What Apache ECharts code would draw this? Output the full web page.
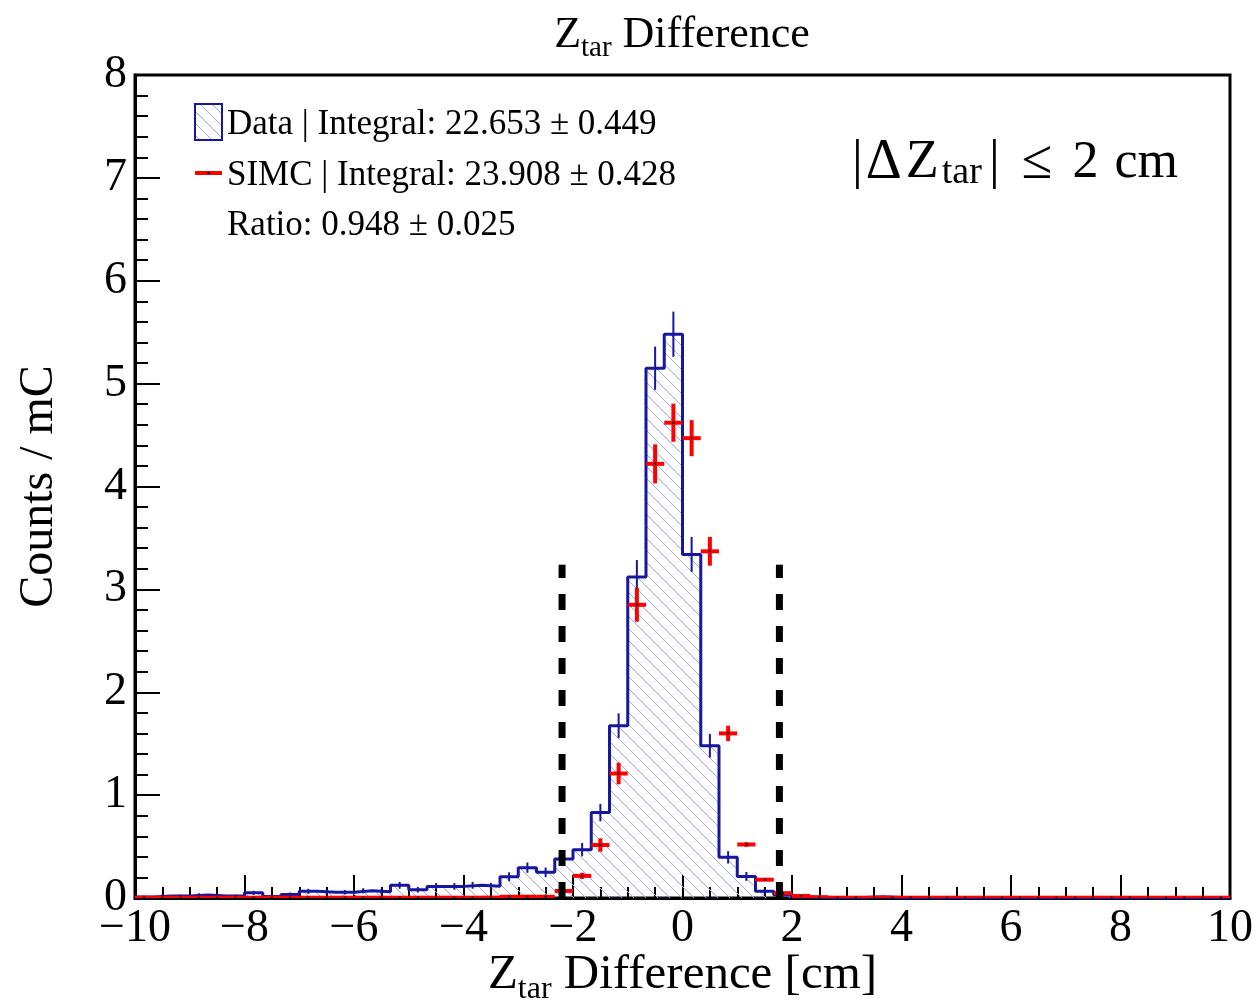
<!DOCTYPE html>
<html><head><meta charset="utf-8">
<script src="https://cdn.jsdelivr.net/npm/echarts@6/dist/echarts.min.js"></script>
<style>html,body{margin:0;padding:0;background:#fff}#c{width:1259px;height:1008px}</style>
</head><body><div id="c"></div>
<script>
// ---- binning ----
const xMin = -10, xMax = 10, nBins = 60;
const yMin = 0, yMax = 8;
const xTickLabels = ['\u221210','\u22128','\u22126','\u22124','\u22122','0','2','4','6','8','10'];
const yTickLabels = ['0','1','2','3','4','5','6','7','8'];

// ---- Data histogram (bin contents, errors), bins from -10 to 10 ----
const dataValues = [
 0.010, 0.020, 0.020, 0.030, 0.020, 0.020, 0.050, 0.015, 0.035, 0.065,
 0.055, 0.055, 0.070, 0.060, 0.123, 0.080, 0.113, 0.113, 0.123, 0.115,
 0.207, 0.295, 0.250, 0.380, 0.470, 0.830, 1.675, 3.120, 5.150, 5.480,
 3.340, 1.480, 0.395, 0.210, 0.065, 0.030, 0.010, 0.005, 0.004, 0.004,
 0.012, 0.004, 0.003, 0.003, 0.003, 0.003, 0.003, 0.003, 0.003, 0.003,
 0.003, 0.003, 0.003, 0.003, 0.003, 0.003, 0.003, 0.003, 0.003, 0.003];
const dataErrors = [
 0.012, 0.014, 0.014, 0.016, 0.014, 0.014, 0.020, 0.012, 0.018, 0.024,
 0.022, 0.022, 0.025, 0.023, 0.033, 0.027, 0.032, 0.032, 0.033, 0.032,
 0.043, 0.050, 0.047, 0.058, 0.065, 0.085, 0.120, 0.165, 0.210, 0.220,
 0.170, 0.115, 0.060, 0.043, 0.024, 0.016, 0.010, 0.007, 0.006, 0.006,
 0.010, 0.006, 0.005, 0.005, 0.005, 0.005, 0.005, 0.005, 0.005, 0.005,
 0.005, 0.005, 0.005, 0.005, 0.005, 0.005, 0.005, 0.005, 0.005, 0.005];

// ---- SIMC histogram ----
const simcValues = [
 0.003, 0.003, 0.003, 0.003, 0.003, 0.003, 0.003, 0.003, 0.003, 0.003,
 0.003, 0.003, 0.003, 0.003, 0.003, 0.003, 0.003, 0.003, 0.003, 0.004,
 0.012, 0.013, 0.012, 0.068, 0.215, 0.515, 1.210, 2.850, 4.220, 4.620,
 4.470, 3.370, 1.600, 0.520, 0.178, 0.047, 0.020, 0.008, 0.003, 0.003,
 0.003, 0.003, 0.003, 0.003, 0.003, 0.003, 0.003, 0.003, 0.003, 0.003,
 0.003, 0.003, 0.003, 0.003, 0.003, 0.003, 0.003, 0.003, 0.003, 0.003];
const simcErrors = [
 0.002, 0.002, 0.002, 0.002, 0.002, 0.002, 0.002, 0.002, 0.002, 0.002,
 0.002, 0.002, 0.002, 0.002, 0.002, 0.002, 0.002, 0.002, 0.002, 0.002,
 0.005, 0.005, 0.005, 0.012, 0.030, 0.065, 0.105, 0.165, 0.190, 0.185,
 0.175, 0.140, 0.075, 0.022, 0.012, 0.006, 0.004, 0.002, 0.002, 0.002,
 0.002, 0.002, 0.002, 0.002, 0.002, 0.002, 0.002, 0.002, 0.002, 0.002,
 0.002, 0.002, 0.002, 0.002, 0.002, 0.002, 0.002, 0.002, 0.002, 0.002];

// ---- cut lines ----
const cutPositions = [-2.2, 1.77];
const cutHeight = 3.24;

// ---- texts ----
const legendTexts = ['Data | Integral: 22.653 \u00b1 0.449', 'SIMC | Integral: 23.908 \u00b1 0.428', 'Ratio: 0.948 \u00b1 0.025'];

const FONT = '"Liberation Serif","Times New Roman",serif';
const BLUE = '#16169f';
const RED = '#ff0000';

const binWidth = (xMax - xMin) / nBins;
const binEdges = dataValues.map((_, k) => xMin + k * binWidth);
const binCenters = binEdges.map(e => e + binWidth / 2);

// step outline points (left edges + final right edge)
const stepData = binEdges.map((e, k) => [e, dataValues[k]]);
stepData.push([xMax, dataValues[nBins - 1]]);

const dataErrData = binCenters.map((c, k) => [c, dataValues[k], dataErrors[k]]);
const simcData = binCenters.map((c, k) => [c, simcValues[k], simcErrors[k], binWidth]);
const cutData = cutPositions.map(x => [x, cutHeight]);

function hatchCanvas() {
  const P = 12;
  const c = document.createElement('canvas');
  c.width = P; c.height = P;
  const g = c.getContext('2d');
  g.strokeStyle = '#a6a6f4'; g.lineWidth = 1;
  g.beginPath();
  g.moveTo(-2, -2); g.lineTo(P + 2, P + 2);
  g.moveTo(-2, P - 2); g.lineTo(2, P + 2);
  g.moveTo(P - 2, -2); g.lineTo(P + 2, 2);
  g.stroke();
  return c;
}
const hatch = { image: hatchCanvas(), repeat: 'repeat' };

const chart = echarts.init(document.getElementById('c'), null, { renderer: 'canvas' });

const option = {
  animation: false,
  backgroundColor: '#fff',
  grid: { left: 135, right: 29, top: 75, bottom: 110, show: true, borderColor: '#000', borderWidth: 3,
          containLabel: false, outerBoundsMode: 'none' },
  xAxis: {
    type: 'value', min: xMin, max: xMax, interval: 2,
    axisLine: { show: true, onZero: false, lineStyle: { color: '#000', width: 3 } },
    axisTick: { show: true, inside: true, length: 23, lineStyle: { color: '#000', width: 2 } },
    minorTick: { show: true, splitNumber: 4, length: 11, lineStyle: { color: '#000', width: 2 } },
    splitLine: { show: false },
    axisLabel: { fontFamily: FONT, fontSize: 46, color: '#000', margin: 8,
      formatter: v => xTickLabels[Math.round((v - xMin) / 2)] },
    name: '{z|Z}{s|tar}{z| Difference [cm]}',
    nameLocation: 'middle', nameGap: 47, nameMoveOverlap: false,
    nameTextStyle: { fontFamily: FONT, color: '#000',
      rich: { z: { fontFamily: FONT, fontSize: 49, lineHeight: 60, color: '#000' },
              s: { fontFamily: FONT, fontSize: 32, lineHeight: 60, color: '#000', padding: [30, 0, 0, 0] } } }
  },
  yAxis: {
    type: 'value', min: yMin, max: yMax, interval: 1,
    axisLine: { show: true, onZero: false, lineStyle: { color: '#000', width: 3 } },
    axisTick: { show: true, inside: true, length: 25, lineStyle: { color: '#000', width: 2 } },
    minorTick: { show: true, splitNumber: 5, length: 13, lineStyle: { color: '#000', width: 2 } },
    splitLine: { show: false },
    axisLabel: { fontFamily: FONT, fontSize: 46, color: '#000', margin: 8,
      formatter: v => yTickLabels[Math.round(v)] },
    name: 'Counts / mC', nameLocation: 'middle', nameGap: 72, nameMoveOverlap: false,
    nameTextStyle: { fontFamily: FONT, fontSize: 48, color: '#000' }
  },
  series: [
    {
      type: 'line', name: 'Data', data: stepData, step: 'end', symbol: 'none', clip: true,
      lineStyle: { color: BLUE, width: 3 },
      areaStyle: { color: hatch, opacity: 1 },
      z: 2
    },
    {
      type: 'custom', name: 'DataErr', data: dataErrData, clip: true, z: 3,
      encode: { x: 0, y: 1 },
      renderItem: (params, api) => {
        const c = api.value(0), v = api.value(1), e = api.value(2);
        const p1 = api.coord([c, v - e]), p2 = api.coord([c, v + e]);
        return { type: 'line', shape: { x1: p1[0], y1: p1[1], x2: p2[0], y2: p2[1] },
          style: { stroke: BLUE, lineWidth: 2 } };
      }
    },
    {
      type: 'custom', name: 'SIMC', data: simcData, clip: true, z: 4,
      encode: { x: 0, y: 1 },
      renderItem: (params, api) => {
        const c = api.value(0), v = api.value(1), e = api.value(2), w = api.value(3);
        const l = api.coord([c - w / 2, v]), r = api.coord([c + w / 2, v]);
        const lo = api.coord([c, v - e]), hi = api.coord([c, v + e]);
        const m = api.coord([c, v]);
        return { type: 'group', children: [
          { type: 'line', shape: { x1: l[0], y1: l[1], x2: r[0], y2: r[1] }, style: { stroke: RED, lineWidth: 4 } },
          { type: 'line', shape: { x1: lo[0], y1: lo[1], x2: hi[0], y2: hi[1] }, style: { stroke: RED, lineWidth: 4 } },
          { type: 'rect', shape: { x: m[0] - 1, y: m[1] - 1, width: 2, height: 2 }, style: { fill: '#000' } }
        ] };
      }
    },
    {
      type: 'custom', name: 'Cuts', data: cutData, clip: false, z: 5,
      encode: { x: 0, y: 1 },
      renderItem: (params, api) => {
        const x = api.value(0), h = api.value(1);
        const p0 = api.coord([x, 0]), p1 = api.coord([x, h]);
        return { type: 'line', shape: { x1: p0[0], y1: p0[1], x2: p1[0], y2: p1[1] },
          style: { stroke: '#000', lineWidth: 7, lineDash: [16, 16] } };
      }
    }
  ],
  graphic: [
    { type: 'text', x: 682, y: 35, z: 10, style: {
        text: '{t|Z}{s|tar}{t| Difference}', align: 'center', verticalAlign: 'middle',
        rich: { t: { fontFamily: FONT, fontSize: 44, lineHeight: 50, fill: '#000' },
                s: { fontFamily: FONT, fontSize: 29, lineHeight: 50, fill: '#000', padding: [26, 0, 0, 0] } } } },
    { type: 'rect', z: 10, shape: { x: 195, y: 104, width: 27, height: 36 }, style: { fill: hatch, stroke: BLUE, lineWidth: 2 } },
    { type: 'text', z: 10, x: 227, y: 125, style: { text: legendTexts[0], font: '35px ' + FONT, fill: '#000', verticalAlign: 'middle' } },
    { type: 'line', z: 10, shape: { x1: 195, y1: 173, x2: 222, y2: 173 }, style: { stroke: RED, lineWidth: 4 } },
    { type: 'rect', z: 11, shape: { x: 207.5, y: 172, width: 2, height: 2 }, style: { fill: '#000' } },
    { type: 'text', z: 10, x: 227, y: 176, style: { text: legendTexts[1], font: '35px ' + FONT, fill: '#000', verticalAlign: 'middle' } },
    { type: 'text', z: 10, x: 227, y: 226, style: { text: legendTexts[2], font: '35px ' + FONT, fill: '#000', verticalAlign: 'middle' } },
    { type: 'text', z: 10, x: 852, y: 163, style: {
        text: '{b||}{d|\u0394}{z|Z}{s|tar}{b2||}{le|\u2264}{n|2}{n2|cm}', verticalAlign: 'middle',
        rich: {
          b: { fontFamily: FONT, fontSize: 54, lineHeight: 64, fill: '#000' },
          d: { fontFamily: FONT, fontSize: 56, lineHeight: 64, fill: '#000', padding: [0, 0, 0, 3] },
          z: { fontFamily: FONT, fontSize: 54, lineHeight: 64, fill: '#000', padding: [0, 0, 0, 4] },
          s: { fontFamily: FONT, fontSize: 38, lineHeight: 64, fill: '#000', padding: [20, 0, 0, 3] },
          b2: { fontFamily: FONT, fontSize: 54, lineHeight: 64, fill: '#000', padding: [0, 0, 0, 7] },
          le: { fontFamily: FONT, fontSize: 56, lineHeight: 64, fill: '#000', padding: [0, 0, 0, 22] },
          n: { fontFamily: FONT, fontSize: 52, lineHeight: 64, fill: '#000', padding: [0, 0, 0, 20] },
          n2: { fontFamily: FONT, fontSize: 52, lineHeight: 64, fill: '#000', padding: [0, 0, 0, 16] }
        } } }
  ]
};
chart.setOption(option);
</script>
</body></html>
